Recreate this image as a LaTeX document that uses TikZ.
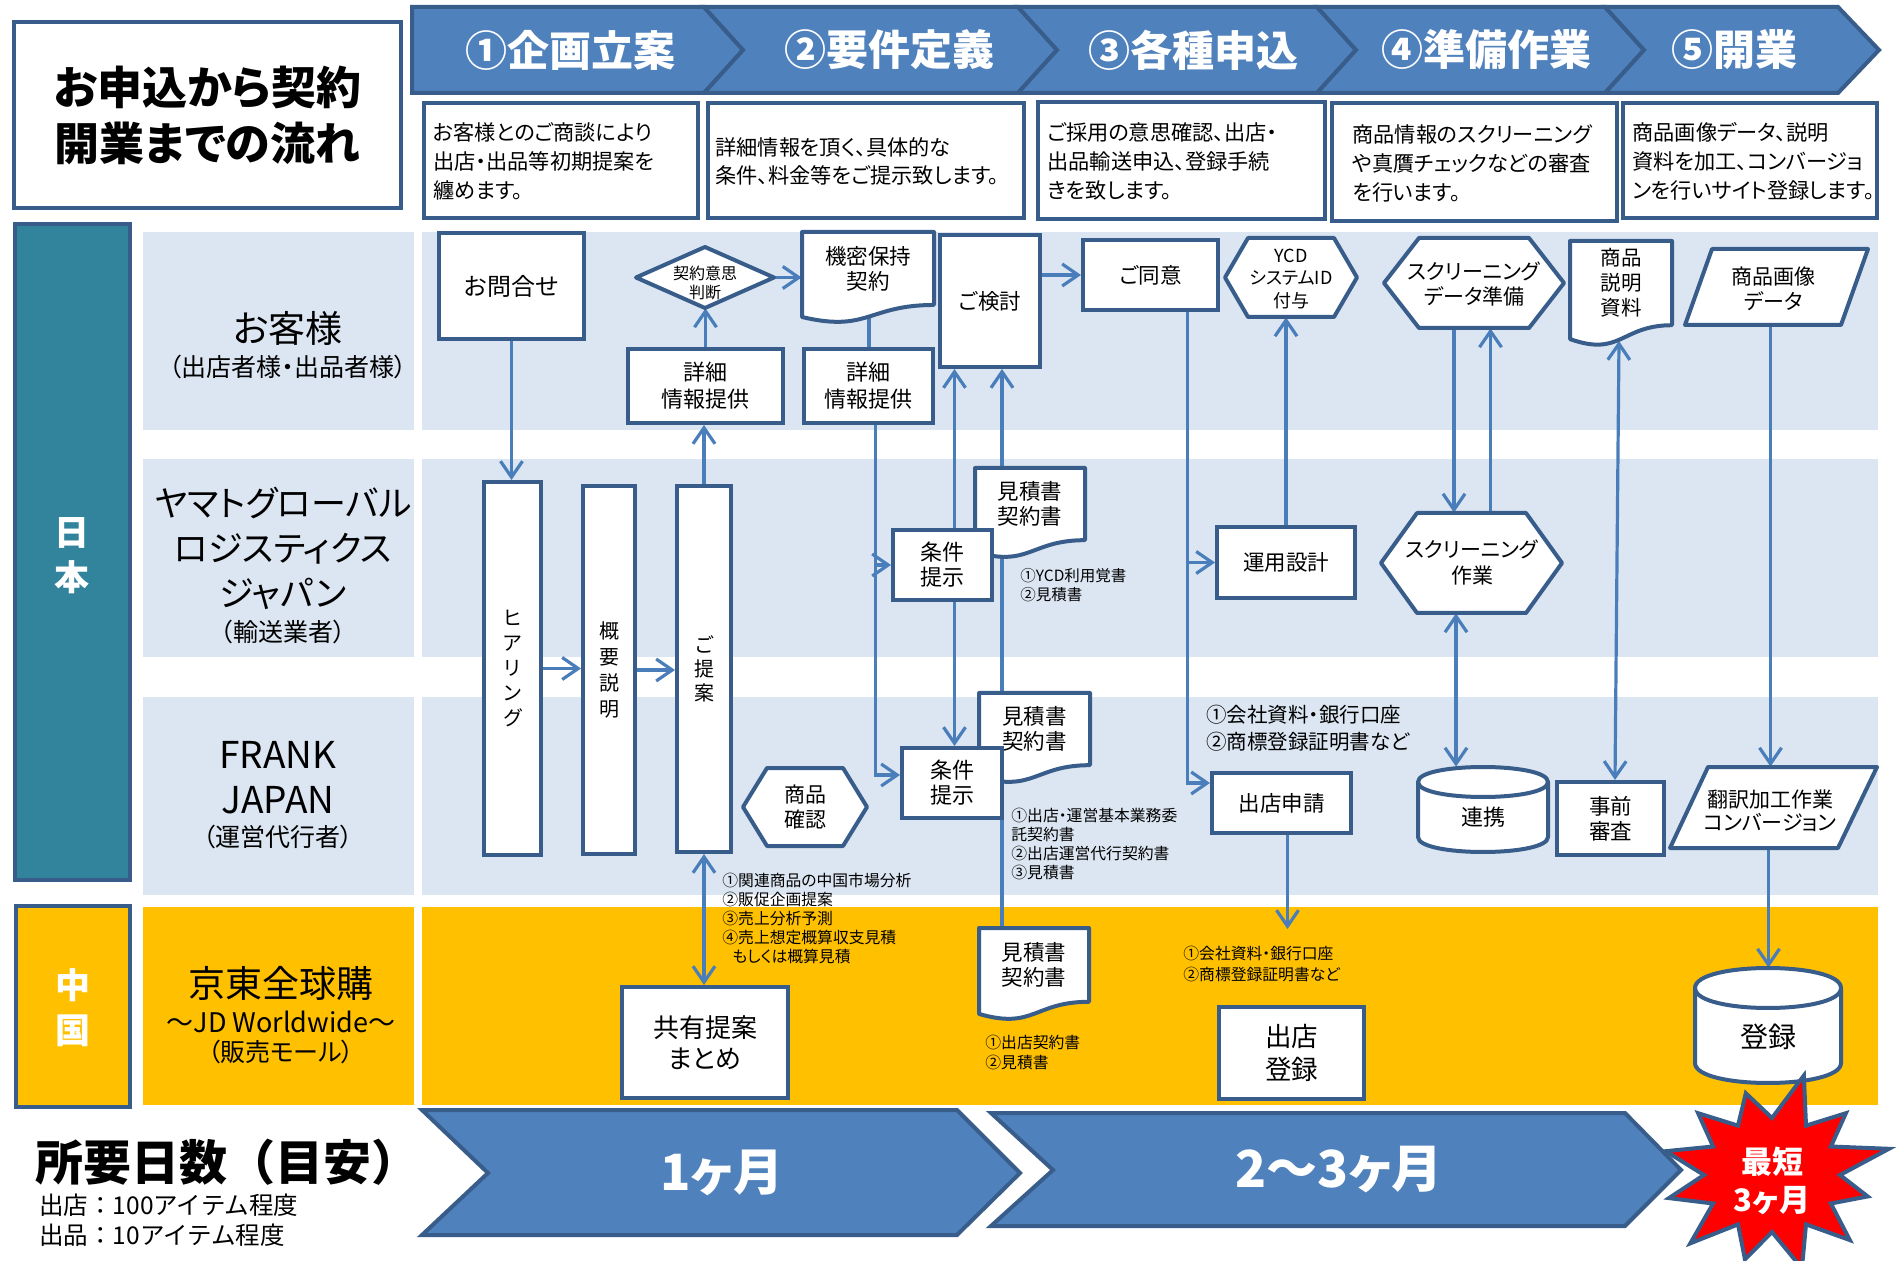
\documentclass[tikz,border=0pt]{standalone}
\usepackage{fontspec}
\setmainfont{Noto Sans CJK JP}[RawFeature=+palt]
\newfontfamily\jpn{Noto Sans CJK JP}
\usetikzlibrary{arrows.meta,fit,calc}
\definecolor{dk}{HTML}{385D8A}
\definecolor{hd}{HTML}{4F81BD}
\definecolor{ln}{HTML}{DCE6F2}
\definecolor{ar}{HTML}{4A7EBB}
\definecolor{tl}{HTML}{31849B}
\definecolor{gd}{HTML}{FFC000}
\definecolor{rd}{HTML}{FF0000}
\newcommand{\fsz}[2]{\fontsize{#1pt}{#2pt}\selectfont}
\newcommand{\docpath}[4]{%
  \draw[shp] (#1,#2) -- ({#1+#3},#2) -- ({#1+#3},{#2+0.802*#4})
    .. controls ({#1+0.5*#3},{#2+0.802*#4}) and ({#1+0.5*#3},{#2+1.107*#4}) .. (#1,{#2+0.934*#4}) -- cycle;}
\newcommand{\hexpath}[5]{%
  \draw[shp] (#1,{(#2+#4)/2}) -- ({#1+#5},#2) -- ({#3-#5},#2) -- (#3,{(#2+#4)/2}) -- ({#3-#5},#4) -- ({#1+#5},#4) -- cycle;}
\newcommand{\cylpath}[5]{%
  \draw[shp] (#1,{#2+#5}) .. controls (#1,{#2-0.333*#5}) and (#3,{#2-0.333*#5}) .. (#3,{#2+#5})
    -- (#3,{#4-#5}) .. controls (#3,{#4+0.333*#5}) and (#1,{#4+0.333*#5}) .. (#1,{#4-#5}) -- cycle;
  \draw[shp, fill=none] (#1,{#2+#5}) .. controls (#1,{#2+2.333*#5}) and (#3,{#2+2.333*#5}) .. (#3,{#2+#5});}
\pgfdeclarelayer{back}
\pgfdeclarelayer{mid}
\pgfsetlayers{back,mid,main}
\begin{document}
\begin{tikzpicture}[x=0.5pt,y=-0.5pt,
  box/.style={draw=dk, line width=2pt, fill=white, inner sep=0pt},
  shp/.style={draw=dk, line width=2pt, fill=white, line join=round},
  lbl/.style={inner sep=0pt, align=center},
  arr/.style={draw=ar, line width=1.6pt, -{Straight Barb[length=8pt,width=11pt]}},
  darr/.style={draw=ar, line width=1.6pt, {Straight Barb[length=8pt,width=11pt]}-{Straight Barb[length=8pt,width=11pt]}},
  con/.style={draw=ar, line width=1.6pt},
  chev/.style={fill=hd, draw=dk, line width=2pt, line join=miter},
  note/.style={inner sep=0pt, anchor=west, align=left},
  ]
\path[use as bounding box] (0,0) rectangle (1896,1261);

% lanes
\begin{pgfonlayer}{back}
\fill[white] (0,0) rectangle (1896,1261);
\fill[ln] (143,232) rectangle (414,430);
\fill[ln] (422,232) rectangle (1878,430);
\fill[ln] (143,459) rectangle (414,657);
\fill[ln] (422,459) rectangle (1878,657);
\fill[ln] (143,697) rectangle (414,895);
\fill[ln] (422,697) rectangle (1878,895);
\fill[gd] (143,907) rectangle (414,1105);
\fill[gd] (422,907) rectangle (1878,1105);
\end{pgfonlayer}

% title
\node[box, fit={(14,22)(401,208)}] (title) {};
\node[lbl, font={\bfseries\fsz{22.5}{28}}] (titlet) at (title.center) {お申込から契約\\開業までの流れ};

% header chevrons
\draw[chev] (412,7) -- (704,7) -- (743,50) -- (704,93) -- (412,93) -- cycle;
\draw[chev] (704,7) -- (1018,7) -- (1057,50) -- (1018,93) -- (704,93) -- (743,50) -- cycle;
\draw[chev] (1018,7) -- (1317,7) -- (1356,50) -- (1317,93) -- (1018,93) -- (1057,50) -- cycle;
\draw[chev] (1317,7) -- (1605,7) -- (1644,50) -- (1605,93) -- (1317,93) -- (1356,50) -- cycle;
\draw[chev] (1605,7) -- (1838,7) -- (1879,50) -- (1838,93) -- (1605,93) -- (1644,50) -- cycle;
\node[lbl, text=white, font={\bfseries\fsz{21}{21}}] (h1) at (570,50) {①企画立案};
\node[lbl, text=white, font={\bfseries\fsz{21}{21}}] (h2) at (889,50) {②要件定義};
\node[lbl, text=white, font={\bfseries\fsz{21}{21}}] (h3) at (1193,50) {③各種申込};
\node[lbl, text=white, font={\bfseries\fsz{21}{21}}] (h4) at (1486,50) {④準備作業};
\node[lbl, text=white, font={\bfseries\fsz{21}{21}}] (h5) at (1734,50) {⑤開業};

% description boxes
\node[box, fit={(424,103)(698,218)}] (d1) {};
\node[box, fit={(708,103)(1024,218)}] (d2) {};
\node[box, fit={(1038,102)(1325,219)}] (d3) {};
\node[box, fit={(1332,103)(1617,221)}] (d4) {};
\node[box, fit={(1623,103)(1877,218)}] (d5) {};
\node[note, font={\fsz{10.6}{14.5}}] (d1t) at (433,161) {お客様とのご商談により\\出店・出品等初期提案を\\纏めます。};
\node[note, font={\fsz{10.6}{14}}] (d2t) at (715,161) {詳細情報を頂く、具体的な\\条件、料金等をご提示致します。};
\node[note, font={\fsz{10.6}{14.5}}] (d3t) at (1047,161) {ご採用の意思確認、出店・\\出品輸送申込、登録手続\\きを致します。};
\node[note, font={\fsz{10.6}{14.5}}] (d4t) at (1352,163) {商品情報のスクリーニング\\や真贋チェックなどの審査\\を行います。};
\node[note, font={\fsz{10.6}{14.5}}] (d5t) at (1632,161) {商品画像データ、説明\\資料を加工、コンバージョ\\ンを行いサイト登録します。};

% left column
\node[inner sep=0pt, fit={(15,224)(130,880)}, fill=tl, draw=dk, line width=2pt] (japan) {};
\node[lbl, text=white, font={\bfseries\fsz{17.5}{22.5}}] (japant) at (72,556) {日\\本};
\node[inner sep=0pt, fit={(16,906)(130,1107)}, fill=gd, draw=dk, line width=2pt] (china) {};
\node[lbl, text=white, font={\bfseries\fsz{17.5}{22.5}}] (chinat) at (73,1008) {中\\国};

% lane labels
\node[lbl, font={\fsz{18.5}{18.5}}] (lc1) at (288,328) {お客様};
\node[lbl, font={\fsz{12.5}{12.5}}] (lc2) at (288,367) {（出店者様・出品者様）};
\node[lbl, font={\fsz{17.5}{22.5}}] (ly1) at (283,548) {ヤマトグローバル\\ロジスティクス\\ジャパン};
\node[lbl, font={\fsz{12.5}{12.5}}] (ly2) at (283,632) {（輸送業者）};
\node[lbl, font={\fsz{18.5}{22.5}}] (lf1) at (278,777.5) {FRANK\\JAPAN};
\node[lbl, font={\fsz{12.5}{12.5}}] (lf2) at (278,837) {（運営代行者）};
\node[lbl, font={\fsz{18.5}{18.5}}] (lj1) at (281,983) {京東全球購};
\node[lbl, font={\fsz{13.5}{13.5}}] (lj2) at (281,1022) {～JD Worldwide～};
\node[lbl, font={\fsz{12.5}{12.5}}] (lj3) at (281,1052) {（販売モール）};

% ---- customer lane
\node[box, fit={(439,233)(584,339)}] (ask) {};
\node[lbl, font={\fsz{12}{12}}] (askt) at (ask.center) {お問合せ};
\node[box, fit={(628,349)(783,423)}] (info1) {};
\node[lbl, font={\fsz{11}{13.5}}] (info1t) at (info1.center) {詳細\\情報提供};
\draw[shp] (636,277.5) -- (705,247) -- (774,277.5) -- (705,308) -- cycle;
\node[lbl, fit={(636,247)(774,308)}] (judge) {};
\node[lbl, font={\fsz{8}{9.5}}] (judget) at (705,283) {契約意思\\判断};
\docpath{802}{232}{132}{91}
\node[lbl, fit={(802,232)(934,305)}] (nda) {};
\node[lbl, font={\fsz{10.75}{12.5}}] (ndat) at (nda.center) {機密保持\\契約};
\node[box, fit={(804,349)(933,423)}] (info2) {};
\node[lbl, font={\fsz{11}{13.5}}] (info2t) at (info2.center) {詳細\\情報提供};
\node[box, fit={(940,235)(1040,367)}] (rev) {};
\node[lbl, font={\fsz{10.75}{10.75}}] (revt) at (rev.center) {ご検討};
\node[box, fit={(1083,240)(1218,310)}] (agr) {};
\node[lbl, font={\fsz{10.75}{10.75}}] (agrt) at (agr.center) {ご同意};
\hexpath{1225}{238}{1357}{317}{23}
\node[lbl, fit={(1225,238)(1357,317)}] (ycd) {};
\node[lbl, font={\fsz{9}{11.25}}] (ycdt) at (1291,279) {YCD\\システムID\\付与};
\hexpath{1384}{238}{1564}{328}{35}
\node[lbl, fit={(1384,238)(1564,328)}] (scrprep) {};
\node[lbl, font={\fsz{10.5}{12.5}}] (scrprept) at (1474,284) {スクリーニング\\データ準備};
\docpath{1570}{241}{102}{105}
\node[lbl, fit={(1570,241)(1672,325)}] (desc) {};
\node[lbl, font={\fsz{10.25}{12.5}}] (desct) at (desc.center) {商品\\説明\\資料};
\draw[shp] (1712,249) -- (1868,249) -- (1841,325) -- (1685,325) -- cycle;
\node[lbl, fit={(1685,249)(1868,325)}] (img) {};
\node[lbl, font={\fsz{10.5}{12.5}}] (imgt) at (1773,289) {商品画像\\データ};

% ---- vertical boxes
\node[box, fit={(484,482)(541,855)}] (hear) {};
\node[lbl, font={\fsz{10}{12.5}}] (heart) at (hear.center) {ヒ\\ア\\リ\\ン\\グ};
\node[box, fit={(583,486)(635,854)}] (ovw) {};
\node[lbl, font={\fsz{10}{13}}] (ovwt) at (ovw.center) {概\\要\\説\\明};
\node[box, fit={(677,486)(731,852)}] (prop) {};
\node[lbl, font={\fsz{10}{12}}] (propt) at (prop.center) {ご\\提\\案};

% ---- yamato lane
\docpath{975}{468}{110}{90}
\node[lbl, fit={(975,468)(1085,540)}] (est1) {};
\node[lbl, font={\fsz{10.75}{12.5}}] (est1t) at (est1.center) {見積書\\契約書};
\node[box, fit={(893,530)(992,600)}] (cond1) {};
\node[lbl, font={\fsz{11}{12.5}}] (cond1t) at (cond1.center) {条件\\提示};
\node[box, fit={(1217,527)(1355,598)}] (ops) {};
\node[lbl, font={\fsz{10.75}{10.75}}] (opst) at (ops.center) {運用設計};
\hexpath{1381}{513}{1562}{613}{36}
\node[lbl, fit={(1381,513)(1562,613)}] (scrwork) {};
\node[lbl, font={\fsz{10.5}{13}}] (scrworkt) at (1472,563) {スクリーニング\\作業};

% ---- frank lane
\hexpath{743}{768}{867}{846}{24}
\node[lbl, fit={(743,768)(867,846)}] (check) {};
\node[lbl, font={\fsz{10.5}{12.5}}] (checkt) at (check.center) {商品\\確認};
\docpath{979}{693}{111}{90}
\node[lbl, fit={(979,693)(1090,765)}] (est2) {};
\node[lbl, font={\fsz{10.75}{12.5}}] (est2t) at (est2.center) {見積書\\契約書};
\node[box, fit={(902,748)(1002,818)}] (cond2) {};
\node[lbl, font={\fsz{11}{12.5}}] (cond2t) at (cond2.center) {条件\\提示};
\node[box, fit={(1212,773)(1351,833)}] (apply) {};
\node[lbl, font={\fsz{10.75}{10.75}}] (applyt) at (apply.center) {出店申請};
\cylpath{1418}{767}{1548}{852}{15}
\node[lbl, fit={(1418,767)(1548,852)}] (link) {};
\node[lbl, font={\fsz{11}{11}}] (linkt) at (1483,817) {連携};
\node[box, fit={(1557,782)(1664,855)}] (pre) {};
\node[lbl, font={\fsz{10.75}{12.5}}] (pret) at (pre.center) {事前\\審査};
\draw[shp] (1708,767) -- (1877,767) -- (1838,848) -- (1670,848) -- cycle;
\node[lbl, fit={(1670,767)(1877,848)}] (trans) {};
\node[lbl, font={\fsz{10.5}{11.5}}] (transt) at (1770,811) {翻訳加工作業\\コンバージョン};

% ---- china lane
\node[box, fit={(622,987)(788,1098)}] (share) {};
\node[lbl, font={\fsz{13}{15.5}}] (sharet) at (share.center) {共有提案\\まとめ};
\docpath{979}{928}{110}{92}
\node[lbl, fit={(979,928)(1089,1002)}] (est3) {};
\node[lbl, font={\fsz{10.75}{12.5}}] (est3t) at (est3.center) {見積書\\契約書};
\node[box, fit={(1219,1007)(1364,1099)}] (shop) {};
\node[lbl, font={\fsz{13.25}{16.5}}] (shopt) at (shop.center) {出店\\登録};
\cylpath{1695}{968}{1841}{1083}{20}
\node[lbl, fit={(1695,968)(1841,1083)}] (reg) {};
\node[lbl, font={\fsz{14}{14}}] (regt) at (1768,1037) {登録};

% notes
\node[note, font={\fsz{7.75}{9.5}}] (n1) at (1020,585.5) {①YCD利用覚書\\②見積書};
\node[note, font={\fsz{10.25}{13.5}}] (n2) at (1206,728.5) {①会社資料・銀行口座\\②商標登録証明書など};
\node[note, font={\fsz{7.9}{9.5}}] (n3) at (1011,843.5) {①出店・運営基本業務委\\託契約書\\②出店運営代行契約書\\③見積書};
\node[note, font={\fsz{7.9}{9.6}}] (n4) at (722,918.5) {①関連商品の中国市場分析\\②販促企画提案\\③売上分析予測\\④売上想定概算収支見積\\\hspace*{5pt}もしくは概算見積};
\node[note, font={\fsz{7.9}{10.5}}] (n5) at (1183,964.5) {①会社資料・銀行口座\\②商標登録証明書など};
\node[note, font={\fsz{7.9}{10}}] (n6) at (985,1052) {①出店契約書\\②見積書};

% connectors
\begin{pgfonlayer}{mid}
\draw[arr] (ask.south) -- (ask.south |- hear.north);
\draw[arr] (hear.east) -- (hear.east -| ovw.west);
\draw[arr] (ovw.east) -- (ovw.east -| prop.west);
\draw[arr] (prop.north) -- (prop.north |- info1.south);
\draw[arr] (info1.north) -- (info1.north |- judge.south);
\draw[arr] (judge.east) -- (judge.east -| nda.west);
\coordinate (ndab) at (869,317);
\draw[con] (ndab) -- (ndab |- info2.north);
\draw[arr] ([xshift=3.5pt]info2.south) |- ([yshift=4pt]cond2.west);
\coordinate (j1) at ([xshift=3.5pt]info2.south |- cond1.west);
\draw[arr] (j1) -- (cond1.west);
\draw[arr] ([xshift=6pt]cond1.north) -- ([xshift=6pt]cond1.north |- rev.south);
\draw[arr] ([xshift=6pt]cond1.south) -- ([xshift=6pt]cond1.south |- cond2.north);
\draw[arr] ([xshift=-16pt]est3.north) -- ([xshift=-16pt]est3.north |- rev.south);
\draw[arr] (rev.east |- agr.west) -- (agr.west);
\draw[arr] ([xshift=18.5pt]agr.south) |- ([yshift=10pt]apply.west);
\draw[arr] ([xshift=18.5pt]agr.south |- ops.west) -- (ops.west);
\draw[arr] (ops.north) -- (ops.north |- ycd.south);
\draw[arr] ([xshift=3pt]apply.south) -- ++(0,94);
\draw[arr] ([xshift=-10pt]scrprep.south) -- ([xshift=-10pt]scrprep.south |- scrwork.north);
\draw[arr] ([xshift=9.5pt]scrwork.north) -- ([xshift=9.5pt]scrwork.north |- scrprep.south);
\draw[darr] ([xshift=-7.75pt]scrwork.south) -- ([xshift=-7.75pt]scrwork.south |- link.north);
\coordinate (descb) at (1619,341);
\draw[darr] (descb) -- ([xshift=2.25pt]pre.north);
\draw[arr] ([xshift=-3pt]img.south) -- ([xshift=-3pt]img.south |- trans.north);
\draw[arr] ([xshift=-2.5pt]trans.south) -- ([xshift=-2.5pt]trans.south |- reg.north);
\draw[darr] (prop.south) -- (prop.south |- share.north);
\end{pgfonlayer}

% bottom
\node[note, font={\jpn\bfseries\fsz{24}{24}}] (days) at (35,1162) {所要日数（目安）};
\node[note, font={\jpn\fsz{12.25}{15}}] (items) at (39,1220) {出店：100アイテム程度\\出品：10アイテム程度};
\draw[chev] (422,1110) -- (957,1110) -- (1020,1173) -- (957,1235) -- (422,1235) -- (488,1173) -- cycle;
\node[lbl, text=white, font={\bfseries\fsz{25}{25}}] (m1) at (722,1173) {1ヶ月};
\draw[chev] (991,1113) -- (1625,1113) -- (1681,1170) -- (1625,1226) -- (991,1226) -- (1053,1170) -- cycle;
\node[lbl, text=white, font={\bfseries\fsz{25.5}{25.5}}] (m2) at (1339,1170) {2～3ヶ月};

\draw[fill=rd, draw=dk, line width=2pt, line join=miter]
  ({1772+68*cos(-90)},{1175+57*sin(-90)})
  \foreach \a/\r in {-75/1.12,-45/0.95,-15/1.1,15/0.9,45/1.0,75/1.05,105/0.95,135/1.05,165/0.97,195/1.0,225/0.95,255/0.92}
  { -- ({1772+110*\r*cos(\a)},{1175+92*\r*sin(\a)}) -- ({1772+68*cos(\a+15)},{1175+57*sin(\a+15)}) } -- cycle;
\node[lbl, text=white, font={\bfseries\fsz{15.5}{19}}] (burst) at (1772,1181) {最短\\3ヶ月};
\end{tikzpicture}
\end{document}
